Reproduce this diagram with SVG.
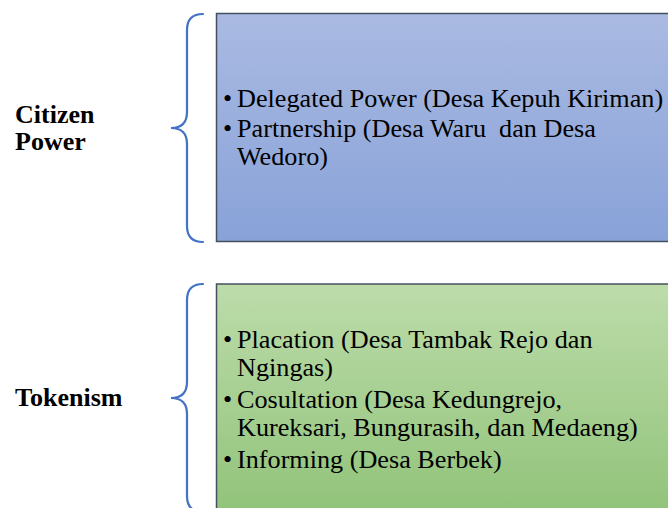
<svg xmlns="http://www.w3.org/2000/svg" width="668" height="508" viewBox="0 0 668 508">
<defs>
<linearGradient id="gBlue" x1="0" y1="0" x2="0" y2="1">
<stop offset="0" stop-color="#aabae2"/>
<stop offset="1" stop-color="#88a2d8"/>
</linearGradient>
<linearGradient id="gGreen" x1="0" y1="0" x2="0" y2="1">
<stop offset="0" stop-color="#bddcaa"/>
<stop offset="1" stop-color="#8fc278"/>
</linearGradient>
<style>
.box{stroke:#44505f;stroke-width:1.5}
.brace{fill:none;stroke:#4472c4;stroke-width:2.2;stroke-linecap:round}
.lbl{font-family:"Liberation Serif","Times New Roman",serif;font-weight:bold;font-size:26px;fill:#000}
.item{font-family:"Liberation Serif","Times New Roman",serif;font-size:26.2px;fill:#000;white-space:pre}
</style>
</defs>
<rect width="668" height="508" fill="#ffffff"/>
<g id="connectors">
<path class="brace" d="M203,14 Q187,14 187,30 L187,112 Q187,128 171,128 Q187,128 187,144 L187,226 Q187,242 203,242"/>
<path class="brace" d="M203,284 Q187,284 187,300 L187,382 Q187,398 171,398 Q187,398 187,414 L187,496 Q187,512 203,512"/>
</g>
<g id="citizen-power-label">
<text class="lbl" x="15" y="123">Citizen</text>
<text class="lbl" x="15" y="150">Power</text>
</g>
<g id="tokenism-label">
<text class="lbl" x="15" y="406">Tokenism</text>
</g>
<g id="citizen-power-box">
<rect class="box" x="216.5" y="13.5" width="470" height="228" fill="url(#gBlue)"/>
<text class="item" x="223" y="107">•</text>
<text class="item" x="237" y="107">Delegated Power (Desa Kepuh Kiriman)</text>
<text class="item" x="223" y="137">•</text>
<text class="item" x="237" y="137" xml:space="preserve">Partnership (Desa Waru  dan Desa</text>
<text class="item" x="237" y="165">Wedoro)</text>
</g>
<g id="tokenism-box">
<rect class="box" x="216.5" y="284" width="470" height="240" fill="url(#gGreen)"/>
<text class="item" x="223" y="348">•</text>
<text class="item" x="237" y="348">Placation (Desa Tambak Rejo dan</text>
<text class="item" x="237" y="376">Ngingas)</text>
<text class="item" x="223" y="408">•</text>
<text class="item" x="237" y="408">Cosultation (Desa Kedungrejo,</text>
<text class="item" x="237" y="436">Kureksari, Bungurasih, dan Medaeng)</text>
<text class="item" x="223" y="468">•</text>
<text class="item" x="237" y="468">Informing (Desa Berbek)</text>
</g>
</svg>
